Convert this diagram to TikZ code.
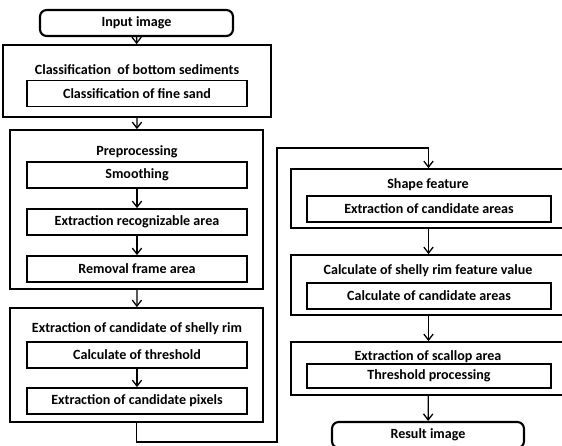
\documentclass[tikz,border=0pt]{standalone}
\usepackage{fontspec}
\setmainfont{Carlito}
\usetikzlibrary{arrows.meta}

\begin{document}
\begin{tikzpicture}[x=0.03cm,y=-0.03cm,
    every node/.style={font=\boxfontsize\bfseries},
    boxsize/.style 2 args={minimum width=#1*0.03cm,minimum height=#2*0.03cm,inner sep=0pt},
    outerbox/.style={draw,line width=1.5pt},
    innerbox/.style={draw,line width=1.5pt,boxsize={220}{26}},
    termbox/.style={draw,line width=1.8pt,rounded corners=2mm,boxsize={193}{26}},
    titletext/.style={inner sep=0pt,anchor=mid},
    flow/.style={line width=1.1pt,-{Straight Barb[length=1.8mm,width=2.8mm,line width=1.1pt]}}]
    \providecommand{\boxfontsize}{\fontsize{12pt}{14pt}\selectfont}
    \useasboundingbox (0,0) rectangle (562,445);
    % left column
    \node[termbox] (input) at (136.5,23) {Input image};
    \node[outerbox,boxsize={268}{72}] (cls) at (137,81) {};
    \node[titletext] (clstitle) at (137,71.5) {Classification~ of bottom sediments};
    \node[innerbox] (sand) at (137,93.5) {Classification of fine sand};
    \node[outerbox,boxsize={253}{159}] (pre) at (136.5,209.5) {};
    \node[titletext] (pretitle) at (137,152.5) {Preprocessing};
    \node[innerbox] (smooth) at (137,175) {Smoothing};
    \node[innerbox] (recog) at (137,222) {Extraction recognizable area};
    \node[innerbox] (frame) at (137,269) {Removal frame area};
    \node[outerbox,boxsize={253}{114}] (rim) at (136.5,365) {};
    \node[titletext] (rimtitle) at (137,329.5) {Extraction of candidate of shelly rim};
    \node[innerbox] (thresh) at (137,355) {Calculate of threshold};
    \node[innerbox] (pixels) at (137,401) {Extraction of candidate pixels};
    % right column
    \node[outerbox,boxsize={275}{59}] (shape) at (428.5,198.5) {};
    \node[titletext] (shapetitle) at (428,185.5) {Shape feature};
    \node[innerbox,boxsize={244}{26}] (areas) at (429,209) {Extraction of candidate areas};
    \node[outerbox,boxsize={275}{60}] (feat) at (428.5,285) {};
    \node[titletext] (feattitle) at (428,271.5) {Calculate of shelly rim feature value};
    \node[innerbox,boxsize={244}{26}] (calc) at (429,296) {Calculate of candidate areas};
    \node[outerbox,boxsize={275}{53}] (scal) at (428.5,368.5) {};
    \node[titletext] (scaltitle) at (428,357.5) {Extraction of scallop area};
    \node[innerbox,boxsize={244}{24}] (proc) at (429,376) {Threshold processing};
    \node[termbox,boxsize={192}{26}] (result) at (428,435) {Result image};
    % connectors
    \draw[flow] (input) -- (cls);
    \draw[flow] (sand.south |- cls.south) -- (pre);
    \draw[flow] (smooth) -- (recog);
    \draw[flow] (recog) -- (frame);
    \draw[flow] (frame.south |- pre.south) -- (rim);
    \draw[flow] (thresh) -- (pixels);
    \coordinate (jbot) at (277,442);
    \coordinate (jtop) at (277,148);
    \draw[flow] (rim.south) |- (jbot) -- (jtop) -| (shape.north);
    \draw[flow] (shape) -- (feat);
    \draw[flow] (feat) -- (scal);
    \draw[flow] (scal) -- (result);
\end{tikzpicture}
\end{document}
